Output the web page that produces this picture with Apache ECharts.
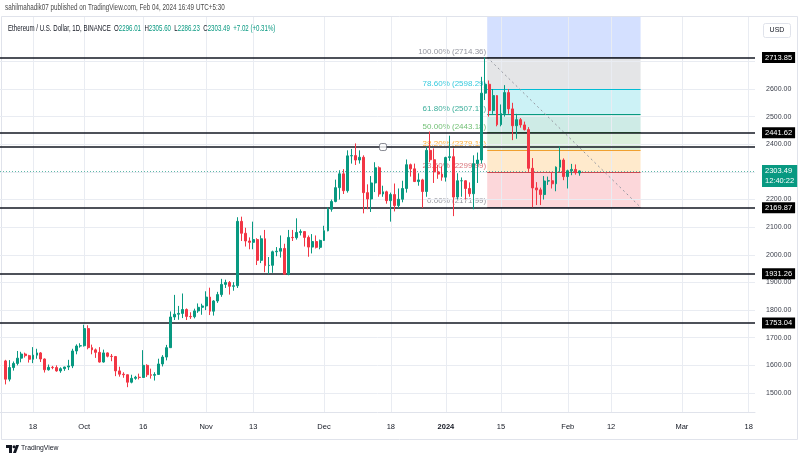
<!DOCTYPE html>
<html><head><meta charset="utf-8">
<script src="https://cdn.jsdelivr.net/npm/echarts@6/dist/echarts.min.js"></script>
<style>html,body{margin:0;padding:0;background:#fff}#c{width:800px;height:460px}</style>
</head><body><div id="c"></div>
<script>
// ---------- DATA ----------
const startDate = '2023-09-11'; // first daily candle
const openP = [
1616,1550,1592,1607,1626,1641,1635,1622,1637,1645,1623,1584,1593,1592,1580,1588,1594,1598,1652,1670,
1671,1733,1664,1656,1647,1612,1645,1633,1632,1580,1568,1566,1539,1553,1557,1556,1600,1566,1564,1567,1605,1630,1664,1775,1785,1788,1802,1777,1776,1797,1810,
1815,1847,1796,1833,1856,1893,1900,1886,1888,2121,2078,2050,2045,2055,1980,2058,1961,1962,2011,2013,2023,1930,2063,2062,2081,2084,2063,2028,2048,2027,
2052,2087,2165,2193,2243,2293,2232,2358,2359,2343,2353,2225,2202,2260,2315,2220,2228,2196,2218,2178,2201,2240,2326,2311,2265,2271,2229,2378,2344,2300,2292,
2281,2352,2355,2209,2268,2268,2240,2221,2330,2343,2585,2617,2522,2576,2471,2511,2587,2528,2467,2489,2470,2453,2313,2242,2235,2218,2267,2268,2257,2317,2343,
2283,2304,2309,2296.01];
const closeP = [
1550,1592,1607,1626,1641,1635,1622,1637,1645,1623,1584,1593,1592,1580,1588,1594,1598,1652,1670,1671,
1733,1664,1656,1647,1612,1645,1633,1632,1580,1568,1566,1539,1553,1557,1556,1600,1566,1564,1567,1605,1630,1664,1775,1785,1788,1802,1777,1776,1797,1810,1815,
1847,1796,1833,1856,1893,1900,1886,1888,2121,2078,2050,2045,2055,1980,2058,1961,1962,2011,2013,2023,1930,2063,2062,2081,2084,2063,2028,2048,2027,2052,
2087,2165,2193,2243,2293,2232,2358,2359,2343,2353,2225,2202,2260,2315,2220,2228,2196,2218,2178,2201,2240,2326,2311,2265,2271,2229,2378,2344,2300,2292,2281,
2352,2355,2209,2268,2268,2240,2221,2330,2343,2585,2617,2522,2576,2471,2511,2587,2528,2467,2489,2470,2453,2313,2242,2235,2218,2267,2268,2257,2317,2343,2283,
2304,2309,2297,2303.49];
const highP = [
1620,1619,1614,1652,1649,1646,1638,1666,1660,1648,1625,1603,1598,1600,1593,1595,1620,1660,1676,1680,
1747,1745,1675,1661,1666,1657,1647,1641,1634,1595,1575,1567,1566,1562,1570,1655,1604,1588,1575,1624,1637,1674,1795,1855,1815,1860,1806,1792,1805,1824,1823,
1868,1881,1836,1866,1913,1910,1905,1901,2136,2138,2098,2063,2120,2060,2070,2090,1992,2015,2028,2070,2040,2090,2090,2132,2092,2086,2070,2075,2070,2055,
2105,2172,2200,2272,2306,2310,2378,2383,2403,2378,2360,2255,2285,2335,2320,2250,2232,2225,2258,2240,2268,2345,2330,2330,2295,2275,2390,2446,2385,2325,2320,
2355,2431,2385,2295,2280,2270,2262,2360,2370,2644,2714.36,2631,2600,2578,2544,2614,2600,2550,2510,2495,2482,2462,2350,2263,2243,2285,2283,2300,2320,2392,2349,
2308,2329,2327,2305.60];
const lowP = [
1531,1542,1581,1600,1611,1628,1610,1608,1624,1612,1574,1581,1586,1577,1573,1580,1583,1590,1640,1664,
1668,1658,1640,1627,1610,1610,1629,1615,1561,1559,1555,1521,1535,1548,1549,1555,1558,1552,1545,1566,1596,1618,1664,1764,1765,1771,1764,1768,1770,1790,1783,
1800,1782,1780,1826,1848,1880,1856,1870,1880,2050,2030,2020,2020,1963,1970,1937,1930,1935,1995,1990,1931,1926,2050,2055,2070,2030,1993,2005,2023,2020,
2050,2085,2156,2190,2200,2220,2225,2330,2325,2330,2150,2165,2155,2227,2210,2210,2185,2120,2157,2168,2190,2225,2283,2264,2250,2170,2210,2335,2260,2275,2268,
2265,2340,2140,2200,2210,2200,2210,2165,2260,2330,2560,2500,2510,2465,2465,2500,2510,2415,2420,2460,2450,2300,2171.99,2180,2180,2200,2253,2240,2230,2300,2270,
2240,2288,2290,2286.23];

const tickDates  = ['2023-09-18','2023-10-01','2023-10-16','2023-11-01','2023-11-13','2023-12-01','2023-12-18','2024-01-01','2024-01-15','2024-02-01','2024-02-12','2024-03-01','2024-03-18'];
const tickLabels = ['18','Oct','16','Nov','13','Dec','18','2024','15','Feb','12','Mar','18'];
const priceTicks = [1500,1600,1700,1800,1900,2000,2100,2200,2300,2400,2500,2600,2700];

const hLines = [2713.85, 2441.62, 2169.87, 1931.26, 1753.04]; // labelled horizontal lines
const plainLine = 2390;                                        // unlabelled horizontal line
const anchorPoint = ['2023-12-16', 2390];
const lastPrice = 2303.49, countdown = '12:40:22';
const fibLow = 2171.99, fibHigh = 2714.36;
const fibRatios = [0, 0.236, 0.382, 0.5, 0.618, 0.786, 1];
const fibStartDate = '2024-01-11', fibEndDate = '2024-02-19';

// ---------- STYLE / LAYOUT ----------
const FONT = '"Liberation Sans",Arial,sans-serif';
const UP = '#089981', DOWN = '#f23645', INK = '#131722';
const fibLineColors = ['#787b86','#c94a52','#f0a030','#4caf50','#089981','#00bcd4','#787b86'];
const fibTextColors = ['#787b86','#d0525a','#ff9800','#4caf50','#089981','#00bcd4','#787b86'];
const fibBandColors = ['rgba(242,54,69,0.2)','rgba(255,152,0,0.2)','rgba(76,175,80,0.2)','rgba(8,153,129,0.2)','rgba(0,188,212,0.2)','rgba(120,123,134,0.2)','rgba(41,98,255,0.2)'];
const X_MIN = -113.4, X_MAX = 78.6;
const Y_MIN = 1431.2, Y_MAX = 2860.5;

const DAY = 86400000, BASE = Date.UTC(2024,0,1);
function dayOff(s){ const [y,m,d] = s.split('-').map(Number); return (Date.UTC(y,m-1,d) - BASE)/DAY; }
const startOff = dayOff(startDate);
const candleData = openP.map((o,i)=>[startOff+i, o, closeP[i], lowP[i], highP[i]]);
const tickOffs = tickDates.map(dayOff);
const labelMap = {}; tickOffs.forEach((v,i)=>{ labelMap[v] = tickLabels[i]; });

const fibX0 = dayOff(fibStartDate) + 0.5, fibX1 = dayOff(fibEndDate) + 0.5;
const fibVals = fibRatios.map(r => fibLow + r*(fibHigh - fibLow));
const fibTops = fibVals.slice(1).concat([Y_MAX]);
const bandData = fibVals.map((v,i)=>[
  {xAxis: fibX0, yAxis: v, itemStyle:{color: fibBandColors[i]}},
  {xAxis: fibX1, yAxis: fibTops[i]}
]);
const fibLineData = fibVals.map((v,i)=>[
  {coord:[fibX0, v], lineStyle:{color: fibLineColors[i], width:1, type:'solid'}},
  {coord:[fibX1, v]}
]);
fibLineData.push([
  {coord:[fibX0, fibHigh], lineStyle:{color:'#9598a1', width:1, type:[2,3]}},
  {coord:[fibX1, fibLow]}
]);
const fibLabelData = fibVals.map((v,i)=>({
  value:[fibX0, v],
  label:{color: fibTextColors[i],
         formatter: (fibRatios[i]*100).toFixed(2) + '% (' + v.toFixed(2) + ')'}
}));

const gridLineData = tickOffs.map(v=>({xAxis:v})).concat(priceTicks.map(v=>({yAxis:v})));

const boxLabel = {show:true, position:'end', distance:7, backgroundColor:'#000', color:'#fff',
  fontSize:7.5, fontFamily:FONT, padding:[2,3,1,3], formatter: p => p.value.toFixed(2)};
const hLineData = hLines.map(v=>({yAxis:v, label:boxLabel}));
hLineData.push({yAxis: plainLine, label:{show:false}});

const chart = echarts.init(document.getElementById('c'));
chart.setOption({
  animation:false,
  backgroundColor:'#ffffff',
  grid:{left:0, right:45, top:17, bottom:48},
  xAxis:{type:'value', min:X_MIN, max:X_MAX,
    axisLine:{show:true, lineStyle:{color:'#e0e3eb'}},
    axisTick:{show:false},
    splitLine:{show:false},
    axisLabel:{customValues: tickOffs, color:INK, fontSize:7.5, fontFamily:FONT, margin:11,
      formatter: v => labelMap[v] === '2024' ? '{b|2024}' : (labelMap[v] || ''),
      rich:{b:{fontWeight:'bold', fontSize:7.5, fontFamily:FONT, color:INK}}}
  },
  yAxis:{type:'value', position:'right', min:Y_MIN, max:Y_MAX,
    axisLine:{show:true, lineStyle:{color:'#e0e3eb'}},
    axisTick:{show:false},
    splitLine:{show:false},
    axisLabel:{customValues: priceTicks, color:'#3a3e4a', fontSize:7, fontFamily:FONT, margin:11,
      formatter: v => v.toFixed(2)}
  },
  graphic:[
    {type:'rect', shape:{x:1.5, y:16.5, width:796, height:423}, style:{fill:'none', stroke:'#e0e3eb', lineWidth:1}, z:-1},
    {type:'text', x:5, y:3, scaleX:0.7, style:{text:'sahilmahadik07 published on TradingView.com, Feb 04, 2024 16:49 UTC+5:30', fill:'#4a4a4a', font:'9px '+FONT}},
    {type:'text', x:8, y:24, z:100, scaleX:0.68, style:{
      text:'{n|Ethereum / U.S. Dollar, 1D, BINANCE}  {k|O}{v|2296.01}  {k|H}{v|2305.60}  {k|L}{v|2286.23}  {k|C}{v|2303.49}  {v|+7.02 (+0.31%)}',
      font:'9px '+FONT,
      rich:{n:{fill:INK, font:'9px '+FONT}, k:{fill:INK, font:'9px '+FONT}, v:{fill:UP, font:'9px '+FONT}}}},
    {type:'rect', shape:{x:763.5, y:23.5, width:27, height:14, r:2}, style:{fill:'#fff', stroke:'#e0e3eb'}, z:100},
    {type:'text', x:777, y:30.5, z:101, style:{text:'USD', fill:INK, font:'7px '+FONT, align:'center', verticalAlign:'middle'}},
    {type:'rect', shape:{x:6, y:445, width:6, height:3}, style:{fill:INK}},
    {type:'rect', shape:{x:9, y:445, width:3, height:8}, style:{fill:INK}},
    {type:'circle', shape:{cx:14, cy:446.8, r:1.5}, style:{fill:INK}},
    {type:'polygon', shape:{points:[[13,453],[16,445],[19,445],[16,453]]}, style:{fill:INK}},
    {type:'text', x:21, y:444, scaleX:0.85, style:{text:'TradingView', fill:INK, font:'8px '+FONT}}
  ],
  series:[
    {type:'line', name:'grid', data:[], z:1, silent:true,
      markLine:{silent:true, symbol:'none', label:{show:false}, animation:false,
        lineStyle:{color:'#e9ecf2', width:1, type:'solid'}, data: gridLineData}},
    {type:'line', name:'fib', data:[], z:2, silent:true,
      markArea:{silent:true, data: bandData},
      markLine:{silent:true, symbol:'none', label:{show:false}, data: fibLineData}},
    {type:'scatter', name:'fibLabels', data: fibLabelData, symbolSize:0, z:3, silent:true,
      label:{show:true, position:'left', distance:1, offset:[0,-6], fontSize:8, fontFamily:FONT}},
    {type:'candlestick', name:'ETHUSD', data: candleData, z:5,
      encode:{x:0, y:[1,2,3,4]},
      barWidth:2.4,
      itemStyle:{color:UP, color0:DOWN, borderColor:UP, borderColor0:DOWN, borderWidth:1}},
    {type:'line', name:'lines', data:[], z:6, silent:true,
      markLine:{silent:true, symbol:'none', lineStyle:{color:'#131722', width:1.5, type:'solid'},
        data: hLineData.concat([{yAxis:lastPrice,
          lineStyle:{color:'#5fb8a8', width:1, type:[1,2]},
          label:{show:true, position:'end', distance:7, backgroundColor:UP, color:'#fff', fontSize:7.5, fontFamily:FONT,
            lineHeight:10, padding:[1,3,1,3], offset:[0,5], formatter: lastPrice.toFixed(2)+'\n'+countdown}}])}},
    {type:'scatter', name:'anchor', data:[[dayOff(anchorPoint[0]), anchorPoint[1]]], z:7, silent:true,
      symbol:'roundRect', symbolSize:7, itemStyle:{color:'#fff', borderColor:'#6a6d78', borderWidth:1}}
  ]
});
</script></body></html>
